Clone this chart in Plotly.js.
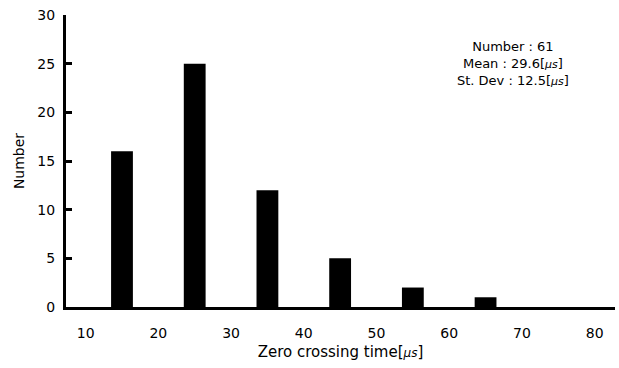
<!DOCTYPE html>
<html><head><meta charset="utf-8">
<script src="https://cdn.plot.ly/plotly-3.0.1.min.js"></script>
<style>html,body{margin:0;padding:0;background:#fff}</style>
</head><body>
<div id="chart" style="width:619px;height:368px"></div>
<script>
var binCenters = [15, 25, 35, 45, 55, 65];
var counts = [16, 25, 12, 5, 2, 1];
var xTicks = [10, 20, 30, 40, 50, 60, 70, 80];
var yTicks = [0, 5, 10, 15, 20, 25, 30];
var statsLines = ['Number : 61', 'Mean : 29.6[<span style="font-size:11px"><i>μs</i></span>]', 'St. Dev : 12.5[<span style="font-size:11px"><i>μs</i></span>]'];

var F = 'DejaVu Sans, Verdana, sans-serif';
var trace = {
  type: 'bar', x: binCenters, y: counts, width: 3,
  marker: {color: '#000', line: {width: 0}}, hoverinfo: 'none'
};
var layout = {
  width: 619, height: 368,
  margin: {l: 66, r: 4, t: 15, b: 61},
  paper_bgcolor: '#fff', plot_bgcolor: '#fff',
  font: {family: F, size: 14, color: '#000'},
  showlegend: false,
  xaxis: {
    range: [7.3, 82.8], tickvals: xTicks, ticktext: xTicks.map(String),
    showgrid: false, zeroline: false, showline: true, linecolor: '#000', linewidth: 3,
    ticks: 'outside', ticklen: 11, tickcolor: 'rgba(0,0,0,0)',
    tickfont: {size: 14},
    title: {text: 'Zero crossing time[<span style="font-size:12px"><i>μs</i></span>]', font: {size: 15}, standoff: 7}
  },
  yaxis: {
    range: [0, 30], tickvals: yTicks, ticktext: yTicks.map(String),
    showgrid: false, zeroline: false, showline: true, linecolor: '#000', linewidth: 3,
    ticks: 'inside', ticklen: 6, tickwidth: 3, tickcolor: '#000',
    ticklabelstandoff: 5, tickfont: {size: 14},
    title: {text: 'Number', font: {size: 14}, standoff: 10}
  },
  annotations: [{
    xref: 'paper', yref: 'paper', x: 0.815, y: 0.925, xanchor: 'center', yanchor: 'top',
    text: statsLines.join('<br>'), showarrow: false, align: 'center',
    font: {family: F, size: 13, color: '#000'}
  }]
};
Plotly.newPlot('chart', [trace], layout, {staticPlot: true, displayModeBar: false});
</script>
</body></html>
